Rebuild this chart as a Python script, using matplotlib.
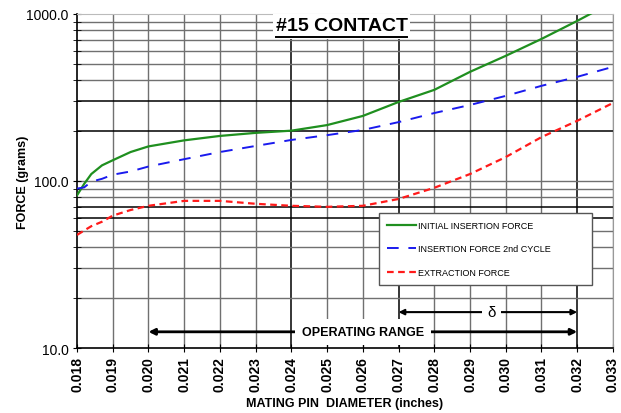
import matplotlib.pyplot as plt
from matplotlib.ticker import FixedLocator, NullFormatter, FuncFormatter

plt.rcParams['font.family'] = ['Liberation Sans', 'DejaVu Sans']

# pin diameter (inches)
dia = [0.018, 0.0182, 0.0184, 0.0187, 0.019, 0.0195, 0.020, 0.021, 0.022, 0.023,
       0.024, 0.025, 0.026, 0.027, 0.028, 0.029, 0.030, 0.031, 0.032, 0.033]
initial = [82, 96, 110, 124, 133, 149, 161, 175, 186, 194,
           200, 216, 245, 297, 351, 450, 561, 708, 908, 1180]
second = [90, 91.5, 99, 103, 109, 114, 122, 135, 149, 162,
          176, 188, 202, 225, 255, 285, 323, 371, 420, 482]
extraction = [47.5, 50.5, 53.6, 57, 62, 67, 71, 76, 76, 73,
              71, 70, 71, 78, 91, 110, 139, 183, 229, 293]

xticks = [0.018 + 0.001 * i for i in range(16)]
black_x = [0.024, 0.027, 0.032]
black_y = [60, 70, 200, 300]
ygrid = [20, 30, 40, 50, 60, 70, 80, 90, 100, 200, 300, 400, 500, 600, 700, 800, 900]

fig = plt.figure(figsize=(6.21, 4.14), dpi=100)
ax = fig.add_axes([0.124, 0.157, 0.863, 0.807])

ax.set_yscale('log')
ax.set_xlim(0.018, 0.033)
ax.set_ylim(10, 1000)

# grid
for x in xticks[1:]:
    if min(abs(x - b) for b in black_x) < 1e-9:
        ax.axvline(x, color='black', lw=1.1, zorder=1)
    else:
        ax.axvline(x, color='#707070', lw=1.0, zorder=1)
for y in ygrid:
    if y in black_y:
        ax.axhline(y, color='black', lw=1.1, zorder=1)
    else:
        ax.axhline(y, color='#707070', lw=1.0, zorder=1)

ax.plot(dia, initial, color='#1f8f1f', lw=1.6, label='INITIAL INSERTION FORCE', zorder=3)
ax.plot(dia, second, color='#1a1aee', lw=1.4, dashes=(6, 5),
        label='INSERTION FORCE 2nd CYCLE', zorder=3)
ax.plot(dia, extraction, color='#ff1a1a', lw=1.6, dashes=(3, 2),
        label='EXTRACTION FORCE', zorder=3)

# ticks
ax.xaxis.set_major_locator(FixedLocator(xticks))
ax.xaxis.set_major_formatter(FuncFormatter(lambda v, p: '%.3f' % v))
ax.yaxis.set_major_locator(FixedLocator([10, 100, 1000]))
ax.yaxis.set_major_formatter(FuncFormatter(lambda v, p: '%.1f' % v))
ax.yaxis.set_minor_locator(FixedLocator(ygrid))
ax.yaxis.set_minor_formatter(NullFormatter())
ax.tick_params(axis='x', direction='inout', length=6, labelrotation=90, labelsize=10, pad=3)
ax.tick_params(axis='y', which='both', direction='inout', length=6, labelsize=10, pad=3)
for lab in ax.get_xticklabels():
    lab.set_fontweight('bold')

ax.spines['top'].set_color('#bbbbbb')
ax.spines['right'].set_color('#999999')
ax.spines['left'].set_linewidth(1.2)
ax.spines['bottom'].set_linewidth(1.2)

ax.set_xlabel('MATING PIN  DIAMETER (inches)', fontsize=9, fontweight='bold', labelpad=4)
ax.set_ylabel('FORCE (grams)', fontsize=9, fontweight='bold')
ax.yaxis.set_label_coords(-0.09, 0.5)

# title inside plot, on a white patch, underlined
xt = ax.get_xaxis_transform()
ax.axvspan(0.02349, 0.02732, ymin=0.925, ymax=1.0, color='white', zorder=4, lw=0)
ax.text(0.02541, 0.964, '#15 CONTACT', fontsize=14, fontweight='bold', ha='center',
        va='center', zorder=6, transform=xt)
ax.plot([0.02357, 0.02724], [0.932, 0.932], color='black', lw=1.4, transform=xt, zorder=7)

# arrows
arrow = dict(arrowstyle='<|-|>', color='black', lw=2, mutation_scale=9, shrinkA=0, shrinkB=0)
ax.annotate('', xy=(0.020, 12.5), xytext=(0.032, 12.5), arrowprops=arrow, zorder=4)
ax.text(0.026, 12.5, 'OPERATING RANGE', fontsize=9, fontweight='bold', ha='center', va='center',
        zorder=5, bbox=dict(facecolor='white', edgecolor='none', pad=5))
arrow2 = dict(arrowstyle='<|-|>', color='black', lw=1.5, mutation_scale=8, shrinkA=0, shrinkB=0)
ax.annotate('', xy=(0.027, 16.4), xytext=(0.032, 16.4), arrowprops=arrow2, zorder=4)
ax.text(0.0296, 16.4, 'δ', fontsize=11, ha='center', va='center', zorder=5,
        bbox=dict(facecolor='white', edgecolor='none', pad=4))

leg = ax.legend(loc='lower left', bbox_to_anchor=(0.563, 0.189, 0.398, 0.215), mode='expand',
                borderaxespad=0, fontsize=6.5, labelspacing=1.6, handlelength=3.2,
                handletextpad=0.2, borderpad=0.9, fancybox=False, framealpha=1,
                edgecolor='#555555')
leg.set_zorder(8)

fig.savefig('out.png', dpi=100)
